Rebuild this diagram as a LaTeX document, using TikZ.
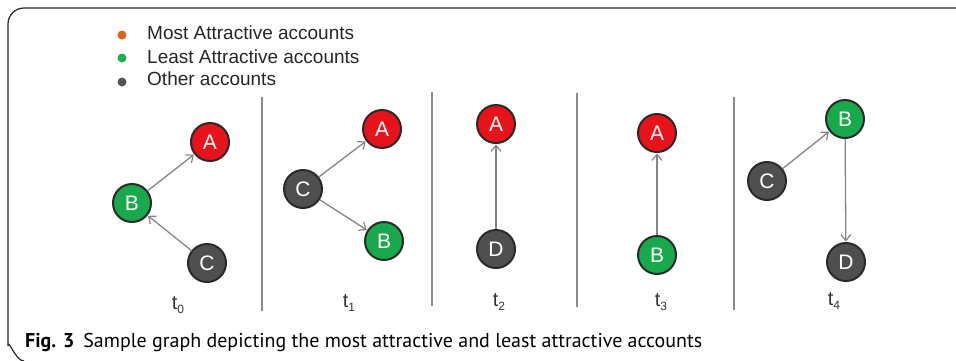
\documentclass[tikz,border=0pt]{standalone}
\usepackage{fontspec}
\setmainfont{Liberation Sans}
\newfontfamily\capfont{PT Sans}
\usetikzlibrary{arrows.meta}
\definecolor{nred}{HTML}{E8121B}
\definecolor{ngreen}{HTML}{17A94A}
\definecolor{ngray}{HTML}{4F4F4F}
\definecolor{nborder}{HTML}{2A2A2A}
\definecolor{lorange}{HTML}{E2621C}
\definecolor{lgreen}{HTML}{1DB052}
\definecolor{lgray}{HTML}{555555}
\definecolor{edgegray}{HTML}{858585}
\definecolor{sepgray}{HTML}{8A8A8A}
\tikzset{
  acc/.style={circle, draw=nborder, line width=2pt, minimum size=38pt, inner sep=0pt,
    text=white, font=\fontsize{21}{21}\selectfont},
  most/.style={acc, fill=nred},
  least/.style={acc, fill=ngreen},
  other/.style={acc, fill=ngray},
  link/.style={draw=edgegray, line width=1.3pt, -{Straight Barb[length=6pt,width=10pt,line width=1.2pt]}, shorten >=0.5pt},
  sep/.style={draw=sepgray, line width=1.5pt},
  legdot/.style={circle, inner sep=0pt, minimum size=9pt},
  legtext/.style={anchor=base west, inner sep=0pt, text=black!85, font=\fontsize{19}{19}\selectfont},
  tlabel/.style={anchor=base, inner sep=0pt, text=black!80, font=\fontsize{20}{20}\selectfont}
}
\newcommand{\tlab}[1]{t\raisebox{-4pt}{\fontsize{12}{12}\selectfont #1}}
\begin{document}
\begin{tikzpicture}[x=1pt,y=-1pt]
\useasboundingbox (0,0) rectangle (956,360);
% frame
\draw[line width=1.2pt, black!85] (24,361) to[out=180,in=90] (8,346) -- (8,24) to[out=90,in=180] (24,8) -- (956,8);
% legend
\node[legdot, fill=lorange] (d1) at (122,35) {};
\node[legdot, fill=lgreen] (d2) at (122,58) {};
\node[legdot, fill=lgray] (d3) at (122,82) {};
\node[legtext] (l1) at (147,39.5) {Most Attractive accounts};
\node[legtext] (l2) at (147,63) {Least Attractive accounts};
\node[legtext] (l3) at (147,85.5) {Other accounts};
% separators
\coordinate (s1a) at (262,97); \coordinate (s1b) at (262,311);
\coordinate (s2a) at (432,92); \coordinate (s2b) at (432,306);
\coordinate (s3a) at (577,93); \coordinate (s3b) at (577,307);
\coordinate (s4a) at (734,97); \coordinate (s4b) at (734,310);
\draw[sep] (s1a) -- (s1b);
\draw[sep] (s2a) -- (s2b);
\draw[sep] (s3a) -- (s3b);
\draw[sep] (s4a) -- (s4b);
% t0
\node[most] (A0) at (210,142) {A};
\node[least] (B0) at (132,203) {B};
\node[other] (C0) at (207,263) {C};
\draw[link] (B0) -- (A0);
\draw[link] (C0) -- (B0);
% t1
\node[most] (A1) at (382,129) {A};
\node[other] (C1) at (303,189) {C};
\node[least] (B1) at (384,241) {B};
\draw[link] (C1) -- (A1);
\draw[link] (C1) -- (B1);
% t2
\node[most] (A2) at (496,124) {A};
\node[other] (D2) at (496,249) {D};
\draw[link] (D2) -- (A2);
% t3
\node[most] (A3) at (657,133) {A};
\node[least] (B3) at (657,255) {B};
\draw[link] (B3) -- (A3);
% t4
\node[least] (B4) at (845,119) {B};
\node[other] (C4) at (767,181) {C};
\node[other] (D4) at (846,262) {D};
\draw[link] (C4) -- (B4);
\draw[link] (B4) -- (D4);
% time labels
\node[tlabel] (t0) at (178,309) {\tlab{0}};
\node[tlabel] (t1) at (349,307) {\tlab{1}};
\node[tlabel] (t2) at (499,306) {\tlab{2}};
\node[tlabel] (t3) at (661,306) {\tlab{3}};
\node[tlabel] (t4) at (834,305) {\tlab{4}};
% caption
\node[anchor=base west, inner sep=0pt, font=\capfont\fontsize{20}{20}\selectfont] (cap) at (25,347)
  {\resizebox{677pt}{\height}{\textbf{Fig. 3}\hspace{0.45em}Sample graph depicting the most attractive and least attractive accounts}};
\end{tikzpicture}
\end{document}
